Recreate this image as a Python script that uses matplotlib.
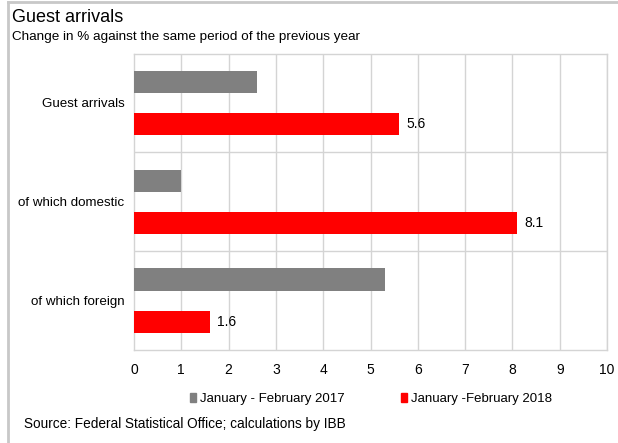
import matplotlib
matplotlib.use("Agg")
import matplotlib.pyplot as plt
from matplotlib.lines import Line2D
from matplotlib.patches import Patch

plt.rcParams['font.family'] = ['Liberation Sans', 'DejaVu Sans']

# data
categories = ["Guest arrivals", "of which domestic", "of which foreign"]
vals_2017 = [2.6, 1.0, 5.3]
vals_2018 = [5.6, 8.1, 1.6]
labels_2018 = ["5.6", "8.1", "1.6"]
series_names = ["January - February 2017", "January -February 2018"]
x_ticks = list(range(0, 11))

gray = "#808080"
red = "#ff0000"
grid_c = "#d4d4d4"

fig = plt.figure(figsize=(6.18, 4.43), dpi=100)
ax = fig.add_axes([134 / 618, 1 - 350 / 443, (607 - 134) / 618, (350 - 53.5) / 443])

pos = list(range(len(categories)))
off = 0.213
h = 0.225
ax.barh([p - off for p in pos], vals_2017, height=h, color=gray, zorder=3)
ax.barh([p + off for p in pos], vals_2018, height=h, color=red, zorder=3)

for p, v, lab in zip(pos, vals_2018, labels_2018):
    ax.text(v + 0.15, p + off, lab, va="center", ha="left", fontsize=10)

ax.set_xlim(0, 10)
ax.set_ylim(2.5, -0.5)
ax.set_xticks(x_ticks)
ax.set_xticklabels([str(t) for t in x_ticks], fontsize=10)
ax.set_yticks(pos)
ax.set_yticklabels(categories, fontsize=9.6)
ax.tick_params(length=0, pad=7)
ax.tick_params(axis="x", pad=9)

for t in x_ticks[1:]:
    ax.axvline(t, color=grid_c, lw=1, zorder=1)
for b in [0.5, 1.5]:
    ax.axhline(b, color=grid_c, lw=1, zorder=1)
for s in ax.spines.values():
    s.set_color(grid_c)
    s.set_linewidth(1)

# legend
handles = [Patch(color=gray), Patch(color=red)]
fig.legend(handles, series_names, loc="center", bbox_to_anchor=(371 / 618, 1 - 399 / 443),
           ncol=2, frameon=False, fontsize=9.5, handlelength=0.45, handleheight=0.75,
           handletextpad=0.3, columnspacing=4.3)

# titles and source
fig.text(12 / 618, 1 - 18 / 443, "Guest arrivals", fontsize=13, va="center", ha="left")
fig.text(12 / 618, 1 - 37 / 443, "Change in % against the same period of the previous year",
         fontsize=9.7, va="center", ha="left")
fig.text(24 / 618, 1 - 424 / 443, "Source: Federal Statistical Office; calculations by IBB",
         fontsize=9.8, va="center", ha="left")

# outer frame
fig.add_artist(Line2D([8 / 618, 8 / 618], [0, 1 - 2 / 443], color="#c8c8c8", lw=2))
fig.add_artist(Line2D([8 / 618, 1], [1 - 2 / 443, 1 - 2 / 443], color="#c8c8c8", lw=2))

fig.savefig("out.png", dpi=100)
